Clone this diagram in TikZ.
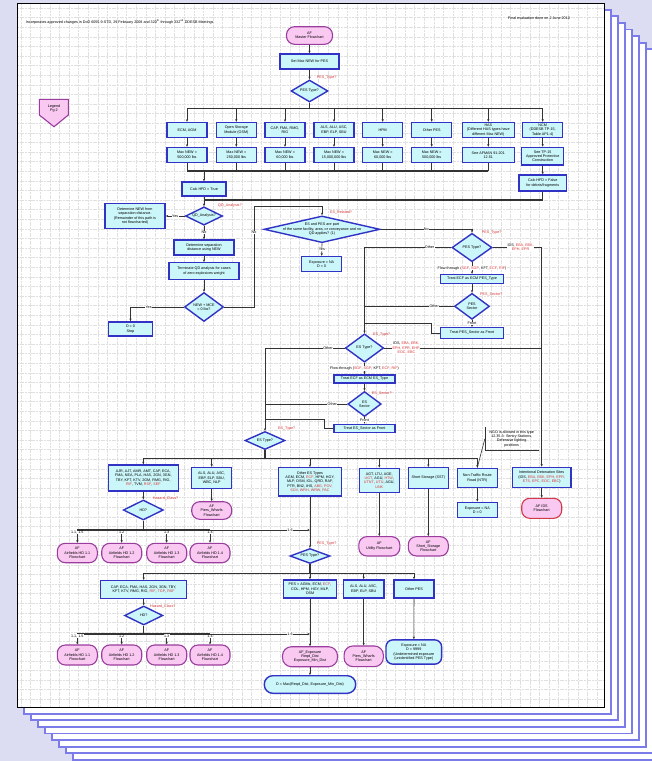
\documentclass[tikz,border=0pt]{standalone}
\usepackage{fontspec}
\setmainfont{Liberation Sans}
\usetikzlibrary{shapes.geometric,arrows.meta,calc}
\definecolor{bgc}{HTML}{DCDCF3}
\definecolor{pageb}{HTML}{7B7BEA}
\definecolor{gridc}{HTML}{E0E0E0}
\definecolor{boxf}{HTML}{CCF7FA}
\definecolor{boxd}{HTML}{3232C4}
\definecolor{termf}{HTML}{F9C9F1}
\definecolor{termd}{HTML}{9A3D9E}
\definecolor{linec}{HTML}{333333}
\definecolor{redl}{HTML}{D93636}
\definecolor{idsd}{HTML}{D03A48}
\newcommand{\fs}{\fontsize{3.7}{4.4}\selectfont}
\newcommand{\rd}[1]{\textcolor{redl}{#1}}
\begin{document}
\begin{tikzpicture}[x=1pt,y=-1pt,
  bw/.style={minimum width=#1pt},
  bh/.style={minimum height=#1pt},
  box/.style={draw=boxd, fill=boxf, line width=1.4pt, inner sep=0.5pt, align=center, font=\fs},
  term/.style={draw=termd, fill=termf, line width=1.1pt, rounded corners=8pt, inner sep=0.5pt, align=center, font=\fs},
  dia/.style={diamond, draw=boxd, fill=boxf, line width=1.4pt, inner sep=0pt},
  dtext/.style={align=center, font=\fs, inner sep=0pt},
  conn/.style={draw=linec, line width=0.6pt, -{Stealth[length=2.6pt,width=2.2pt]}},
  pln/.style={draw=linec, line width=0.6pt},
  busl/.style={draw=linec, line width=1.3pt},
  lab/.style={font=\fs, inner sep=0.3pt, fill=white, align=center},
  rlab/.style={font=\fs, text=redl, inner sep=0pt, anchor=west},
  gridl/.style={draw=gridc, line width=0.3pt, dash pattern=on 2pt off 0.7pt},
  pagel/.style={draw=pageb, line width=1.8pt, fill=white}]
\fill[bgc] (0,0) rectangle (652,761);
\useasboundingbox (0,0) rectangle (652,761);
\foreach \k in {8,7,...,1} {\draw[pagel] ({17+7*\k},{3+6.6*\k}) rectangle ({604+7*\k},{707+6.6*\k});}
\fill[white] (17,3) rectangle (604,707);
\foreach \gx in {21,30.6,...,604} {\draw[gridl] (\gx,3) -- (\gx,707);}
\foreach \gy in {8,17.6,...,707} {\draw[gridl] (17,\gy) -- (604,\gy);}
\draw[black, line width=0.7pt] (17,3) rectangle (604,707);

% header
\node[font=\fs, anchor=west, inner sep=0pt] (hdl) at (25.7,21.7) {Incorporates approved changes in DoD 6055.9-STD, 29 February 2008 and 320\textsuperscript{th} through 332\textsuperscript{nd} DDESB Meetings};
\node[font=\fs, anchor=west, inner sep=0pt] (hdr) at (508,17.7) {Final evaluation done on 2 June 2010};

% legend
\draw[draw=termd, fill=termf, line width=1.1pt] (39.3,99.3) -- (68.3,99.3) -- (68.3,115) -- (54,126.7) -- (39.3,115) -- cycle;
\node[dtext] (legend) at (54,108.5) {Legend\\Pg 2};

% top part
\node[term, bw=46, bh=17.6] (master) at (309.5,35.5) {AF\\Master Flowchart};
\node[box, bw=59, bh=15] (setmax) at (309.5,61.5) {Set Max NEW for PES};
\node[dia, bw=37, bh=22, label={[dtext]center:PES Type?}] (pt1) at (309.5,91) {};
\node[rlab] (pt1l) at (316.7,77.7) {PES\_Type?};

\node[box,bw=40,bh=15] (c1) at (187,130) {ECM, AGM};
\node[box,bw=40,bh=15] (c2) at (236.3,130) {Open Storage\\Module (OSM)};
\node[box,bw=40,bh=15] (c3) at (285,130) {CAP, FMA, RMG,\\RIG};
\node[box,bw=40,bh=15] (c4) at (334,130) {ALS, ALU, ASC,\\EBP, ELP, SBU};
\node[box,bw=40,bh=15] (c5) at (382.7,130) {HPM};
\node[box,bw=40,bh=15] (c6) at (431.7,130) {Other PES};
\node[box,bw=52,bh=15] (c7) at (488.3,130) {HAS\\(Different HAS types have\\different Max NEW)};
\node[box,bw=40,bh=15] (c8) at (542.7,130) {NCM\\(DDESB TP-15,\\Table AP1-4)};

\node[box,bw=40,bh=15] (m1) at (187,155) {Max NEW =\\500,000 lbs};
\node[box,bw=40,bh=15] (m2) at (236.3,155) {Max NEW =\\250,000 lbs};
\node[box,bw=40,bh=15] (m3) at (285,155) {Max NEW =\\60,000 lbs};
\node[box,bw=40,bh=15] (m4) at (334,155) {Max NEW =\\15,000,000 lbs};
\node[box,bw=40,bh=15] (m5) at (382.7,155) {Max NEW =\\60,000 lbs};
\node[box,bw=40,bh=15] (m6) at (431.7,155) {Max NEW =\\500,000 lbs};
\node[box,bw=52,bh=15] (m7) at (488.3,155) {See AFMAN 91-201\\12.51};
\node[box,bw=42,bh=17.7] (m8) at (542.7,156.2) {See TP-15\\Approved Protective\\Construction};
\node[box,bw=47.7,bh=16] (hfdf) at (542.7,183) {Calc HFD = False\\for debris/fragments};

\coordinate (b1L) at (187,108.3);
\coordinate (b1R) at (542.7,108.3);
\coordinate (b2L) at (187,171);
\coordinate (b2R) at (488.3,171);
\draw[conn] (master) -- (setmax);
\draw[conn] (setmax) -- (pt1);
\draw[busl] (pt1.south) -- (pt1 |- b1L);
\draw[busl] (b1L) -- (b1R);
\foreach \n/\mm in {c1/m1,c2/m2,c3/m3,c4/m4,c5/m5,c6/m6,c7/m7,c8/m8} {
  \draw[conn] (\n |- b1L) -- (\n.north);
  \draw[conn] (\n.south) -- (\mm.north);
}
\draw[conn] (m8) -- (hfdf);
\foreach \mm in {m1,m2,m3,m4,m5,m6,m7} {\draw[pln] (\mm.south) -- (\mm |- b2L);}
\draw[busl] (b2L) -- (b2R);

% QD chain
\node[box,bw=44,bh=14] (hfdt) at (204,189) {Calc HFD = True};
\node[dia, bw=37, bh=18.3, label={[dtext]center:QD\_Analysis?}] (qd) at (204,216) {};
\node[rlab] (qdl) at (218,205.5) {QD\_Analysis?};
\node[box,bw=60,bh=25] (detnew) at (135,216) {Determine NEW from\\separation distance.\\(Remainder of this path is\\not flowcharted)};
\node[box,bw=60,bh=15] (sep) at (204,247.5) {Determine separation\\distance using NEW};
\node[box,bw=70,bh=16.6] (trm) at (204,271) {Terminate QD analysis for cases\\of zero explosives weight};
\node[dia, bw=39, bh=29, label={[dtext]center:{NEW + MCE\\= 0 lbs?}}] (newmce) at (204,307) {};
\node[box,bw=44.4,bh=14.3] (d0) at (130.5,329) {D = 0\\Stop};
\coordinate (j1) at (204,200);
\draw[conn] (hfdt |- b2L) -- (hfdt);
\draw[busl] (hfdf.south) |- (j1);
\draw[conn] (hfdt) -- (qd);
\draw[conn] (qd.west) -- (detnew.east) node[lab, midway] {Yes};
\draw[conn] (qd.south) -- (sep.north) node[lab, midway] {No};
\draw[conn] (sep) -- (trm);
\draw[conn] (trm) -- (newmce);
\draw[conn] (newmce.west) -| (d0.north) node[lab, pos=0.33] {Yes};

% ES related
\node[dia, bw=116, bh=26.7, label={[dtext]center:{ES and PES are part\\of the same facility, area, or conveyance and no\\QD applies? (1)}}] (esrel) at (322,229.3) {};
\node[rlab] (esrell) at (330,212.7) {ES\_Related?};
\node[box,bw=40,bh=15] (expna1) at (321.7,264) {Exposure = NA\\D = 0};
\coordinate (k1) at (254,206);
\draw[conn] (newmce.east) -| (k1) node[lab, pos=0.87] {No} -| (esrel.north);
\draw[conn] (esrel.south) -- (expna1.north) node[lab, midway] {Yes};

% PES type 2
\node[dia, bw=40, bh=28.4, label={[dtext]center:PES Type?}] (pt2) at (472,247.5) {};
\node[rlab] (pt2l) at (481.7,232.7) {PES\_Type?};
\node[box,bw=62.6,bh=9] (ecfpes) at (472,279) {Treat ECF as ECM PES\_Type};
\node[dia, bw=35, bh=26, label={[dtext]center:{PES\\Sector}}] (pessec) at (472,306.3) {};
\node[rlab] (pessecl) at (480,295) {PES\_Sector?};
\node[box,bw=62.6,bh=10.6] (pesfront) at (472,333) {Treat PES\_Sector as Front};

% ES type 1
\node[dia, bw=38.3, bh=28.3, label={[dtext]center:ES Type?}] (est1) at (364.5,348) {};
\node[rlab] (est1l) at (373,335) {ES\_Type?};
\node[box,bw=61,bh=8.3] (ecfes) at (364.5,379) {Treat ECF as ECM ES\_Type};
\node[dia, bw=33.4, bh=25, label={[dtext]center:{ES\\Sector}}] (essec) at (364.5,404) {};
\node[rlab] (essecl) at (371.7,393.3) {ES\_Sector?};
\node[box,bw=61,bh=8] (esfront) at (364.5,428.3) {Treat ES\_Sector as Front};
\node[dia, bw=40, bh=18, label={[dtext]center:ES Type?}] (est2) at (265,440.5) {};
\node[rlab] (est2l) at (278,429) {ES\_Type?};

% ES row
\node[box,bw=70,bh=26] (a) at (143.3,478) {AJR, AJT, AMR, AMT, CAP, ECA,\\FMA, NEA, PLA, HAS, 2GN, 3GN,\\TBY, KFT, KTV, 2GM, RMG, RIG,\\\rd{RIF}, TVM, \rd{RSF}, \rd{SEF}};
\node[box,bw=40,bh=21] (b) at (211.7,478) {ALS, ALU, ASC,\\EBP, ELP, SBU,\\WBC, NLP};
\node[box,bw=63.4,bh=28.3] (c) at (310,481.8) {Other ES Types\\AGM, ECM, \rd{ECF}, HPM, HGY,\\MLP, OSM, IOL, QRD, RAF,\\PTR, BN2, IHS, \rd{ABG, POV,}\\\rd{SOV, WRH, WRW, PAC}};
\node[box,bw=40,bh=24.4] (d) at (379.3,480.5) {AGT, LTU, AGE,\\\rd{UGT}, AGU, \rd{HTW},\\\rd{UTNT}, \rd{UTU}, AGU,\\\rd{UNK}};
\node[box,bw=40,bh=20.6] (e) at (428.3,478) {Short Storage (SST)};
\node[box,bw=40,bh=19.4] (f) at (477.3,478) {Non-Traffic Route\\Road (NTR)};
\node[box,bw=58.4,bh=20] (g) at (541.7,477.3) {Intentional Detonation Sites\\(IDS, \rd{EBA, EBK, EPH, EPR,}\\\rd{ETS, EPC, EOC, EBC})};

% connections PES/ES
\draw[conn] (esrel.east) -| (pt2.north) node[lab, pos=0.25] {No};
\draw[conn] (pt2.west) -| (est1.north) node[lab, pos=0.125] {Other};
\draw[conn] (pt2.south) -- (ecfpes.north) node[lab, midway] {Flow-through (\rd{SGF}, \rd{SGP}, KFT, \rd{ECF}, \rd{RIF})};
\draw[conn] (ecfpes) -- (pessec);
\draw[conn] (pessec.south) -- (pesfront.north) node[lab, midway] {Front};
\draw[pln] (pessec.west) -- (pessec.west -| est1) node[lab, pos=0.22] {Other};
\coordinate (k2) at (431.7,323.3);
\draw[pln] (pesfront.west) -| (k2) -- (k2 -| est1);
\draw[conn] (pt2.east) -| (g.north) node[lab, pos=0.285] {IDS, \rd{EBA, EBK,}\\\rd{EPH, EPR}};
\draw[pln] (est1.east) -- (est1.east -| g) node[lab, pos=0.14] {IDS, \rd{EBA, EBK,}\\\rd{EPH, EPR, EHP,}\\\rd{EOC, EBC}};
\draw[conn] (est1.south) -- (ecfes.north) node[lab, midway] {Flow-through (\rd{SGF}, \rd{SGP}, KFT, \rd{ECF}, \rd{RIF})};
\draw[conn] (ecfes) -- (essec);
\draw[conn] (essec.south) -- (esfront.north) node[lab, midway] {Front};
\draw[pln] (essec.west) -- (essec.west -| est2) node[lab, pos=0.18] {Other};
\coordinate (k3) at (324.3,419.3);
\draw[pln] (esfront.west) -| (k3) -- (k3 -| est2);
\draw[conn] (est1.west) -| (est2.north) node[lab, pos=0.105] {Other};

\coordinate (b3L) at (143.3,458.3);
\coordinate (b3R) at (477.3,458.3);
\draw[busl] (est2.south) -- (est2 |- b3L);
\draw[busl] (b3L) -- (b3R);
\foreach \n in {a,b,c,d,e,f} {\draw[conn] (\n |- b3L) -- (\n.north);}

% callout
\node[font=\fs, align=center, inner sep=1pt, minimum width=53.3pt, minimum height=22.3pt] (note) at (511.7,438.8) {NGO is allowed in this type\\12.35.3: Sentry Stations,\\Defensive fighting\\positions};
\draw[pln] (note.north west) -- (note.south west) -- (note.south east);
\draw[pln] (note.west) -- (f.north);

% below ES row
\node[dia, bw=40, bh=20, label={[dtext]center:HD?}] (hd1) at (143.3,510) {};
\node[rlab] (hd1l) at (152.7,499) {Hazard\_Class?};
\node[term,bw=40,bh=19.4] (ah1) at (77.3,553) {AF\\Airfields HD 1.1\\Flowchart};
\node[term,bw=40,bh=19.4] (ah2) at (121.7,553) {AF\\Airfields HD 1.2\\Flowchart};
\node[term,bw=40,bh=19.4] (ah3) at (166.7,553) {AF\\Airfields HD 1.3\\Flowchart};
\node[term,bw=40,bh=19.4] (ah4) at (210,553) {AF\\Airfields HD 1.4\\Flowchart};
\node[term,bw=40,bh=17.6] (piers1) at (211.7,510.5) {AF\\Piers\_Wharfs\\Flowchart};
\node[dia, bw=40, bh=15, label={[dtext]center:PES Type?}] (pt3) at (310,556) {};
\node[rlab] (pt3l) at (316.7,543.3) {PES\_Type?};
\node[term,bw=41,bh=19.3] (util) at (379.3,546.3) {AF\\Utility Flowchart};
\node[term,bw=40,bh=19.3] (sst) at (428.3,546.3) {AF\\Short\_Storage\\Flowchart};
\node[box,bw=40,bh=15.4] (expna2) at (477.3,510) {Exposure = NA\\D = 0};
\node[term,bw=40,bh=20,draw=idsd] (ids) at (541.7,508.3) {AF IDS\\Flowchart};

\coordinate (b4L) at (77.3,530);
\draw[conn] (a) -- (hd1);
\draw[busl] (hd1.south) -- (hd1 |- b4L);
\draw[busl] (b4L) -- (ah4 |- b4L);
\draw[conn] (hd1 |- b4L) -- (c |- b4L) node[lab, pos=0.88] {1.6};
\draw[conn] (ah1 |- b4L) -- (ah1.north) node[lab, pos=0.2] {1.1, 1.5};
\draw[conn] (ah2 |- b4L) -- (ah2.north) node[lab, pos=0.2] {1.2};
\draw[conn] (ah3 |- b4L) -- (ah3.north) node[lab, pos=0.2] {1.3};
\draw[conn] (ah4 |- b4L) -- (ah4.north) node[lab, pos=0.2] {1.4};
\draw[conn] (b) -- (piers1);
\draw[conn] (c.south) -- (pt3.north);
\draw[conn] (d.south) -- (util.north);
\draw[conn] (e) -- (sst);
\draw[conn] (f) -- (expna2);
\draw[conn] (g) -- (ids);

% PES type 3 row
\node[box,bw=86,bh=17.6] (cap) at (143.7,589.5) {CAP, ECA, FMA, HAS, 2GN, 3GN, TBY,\\KFT, KTV, RMG, RIG, \rd{RIF}, \rd{TGP}, \rd{RSF}};
\node[dia, bw=38.3, bh=19, label={[dtext]center:HD?}] (hd2) at (143.7,615.5) {};
\node[rlab] (hd2l) at (150,606.7) {Hazard\_Class?};
\node[term,bw=40,bh=20] (ah5) at (77.3,655) {AF\\Airfields HD 1.1\\Flowchart};
\node[term,bw=40,bh=20] (ah6) at (121.7,655) {AF\\Airfields HD 1.2\\Flowchart};
\node[term,bw=40,bh=20] (ah7) at (166.7,655) {AF\\Airfields HD 1.3\\Flowchart};
\node[term,bw=40,bh=20] (ah8) at (210,655) {AF\\Airfields HD 1.4\\Flowchart};
\node[box,bw=52.7,bh=18.3] (pesagm) at (310,589) {PES = AGMs, ECM, \rd{ECF},\\COL, HPM, HGY, MLP,\\OSM};
\node[box,bw=40.7,bh=18.3] (als2) at (363.7,589) {ALS, ALU, ASC,\\EBP, ELP, SBU};
\node[box,bw=40,bh=18.3] (oth2) at (414,589) {Other PES};
\node[term,bw=55,bh=20,rounded corners=9pt] (afexp) at (310,656.7) {AF\_Exposure\\Reqd\_Dist\\Exposure\_Min\_Dist};
\node[term,bw=39.3,bh=20.7,rounded corners=9pt] (piers2) at (363.7,656.3) {AF\\Piers\_Wharfs\\Flowchart};
\node[box,bw=55.7,bh=24.3,rounded corners=7pt] (exp9999) at (413.8,652) {Exposure = NA\\D = 9999\\(Undetermined exposure\\(unidentified PES Type)};
\node[box,bw=91.4,bh=17.6,rounded corners=8.5pt] (dmax) at (310,684.5) {D = Max(Reqd\_Dist, Exposure\_Min\_Dist)};

\coordinate (b5L) at (143.3,573.3);
\coordinate (b5R) at (414,573.3);
\draw[busl] (pt3.south) -- (pt3 |- b5L);
\draw[busl] (b5L) -- (b5R);
\foreach \n in {cap,pesagm,als2,oth2} {\draw[conn] (\n |- b5L) -- (\n.north);}
\coordinate (b6L) at (77.3,634);
\draw[conn] (cap) -- (hd2);
\draw[busl] (hd2.south) -- (hd2 |- b6L);
\draw[busl] (b6L) -- (ah8 |- b6L);
\draw[conn] (hd2 |- b6L) -- (pesagm |- b6L) node[lab, pos=0.88] {1.6};
\draw[conn] (ah5 |- b6L) -- (ah5.north) node[lab, pos=0.2] {1.1, 1.5};
\draw[conn] (ah6 |- b6L) -- (ah6.north) node[lab, pos=0.2] {1.2};
\draw[conn] (ah7 |- b6L) -- (ah7.north) node[lab, pos=0.2] {1.3};
\draw[conn] (ah8 |- b6L) -- (ah8.north) node[lab, pos=0.2] {1.4};
\draw[conn] (pesagm) -- (afexp);
\draw[conn] (als2) -- (piers2);
\draw[conn] (oth2) -- (exp9999);
\draw[conn] (afexp) -- (dmax);
\end{tikzpicture}
\end{document}
